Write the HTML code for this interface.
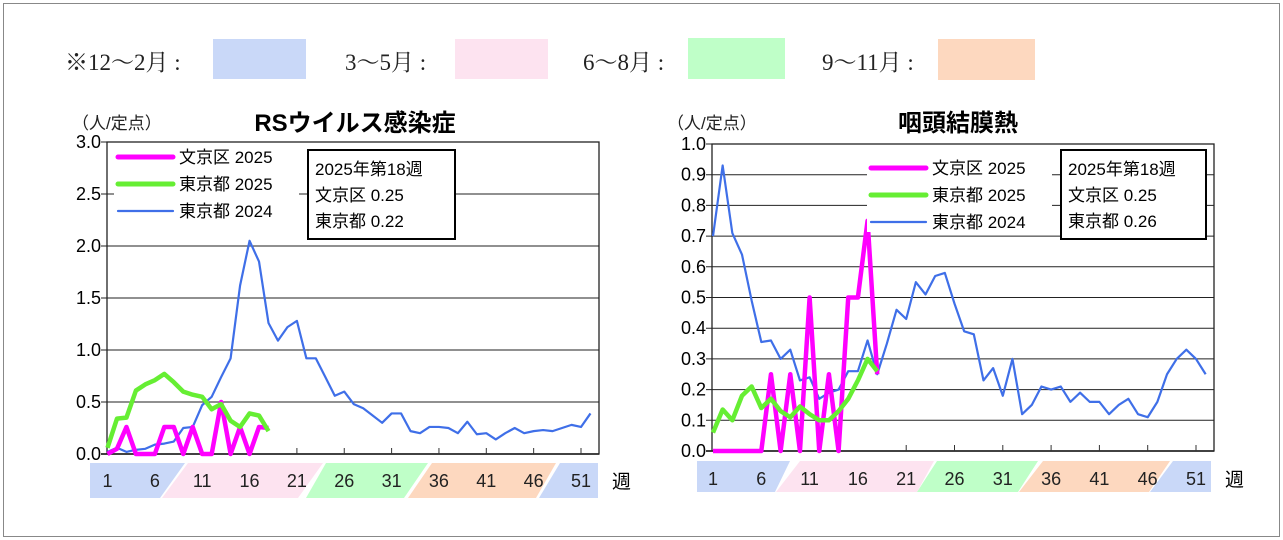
<!DOCTYPE html>
<html><head><meta charset="utf-8">
<style>
body{margin:0;background:#fff;}
svg{display:block;font-family:"Liberation Sans","Noto Sans CJK JP",sans-serif;}
.serif{font-family:"Liberation Serif","Noto Serif CJK SC",serif;}
</style></head>
<body>
<svg id="root" width="1283" height="540" viewBox="0 0 1283 540" xmlns="http://www.w3.org/2000/svg">
<rect x="3.5" y="3.5" width="1276" height="533" fill="#fff" stroke="#888" stroke-width="1"/>
<g class="serif" font-size="23" fill="#222">
 <text x="65" y="70">※12～2月 :</text>
 <rect x="213" y="39" width="93" height="40" fill="#c9d8f8"/>
 <text x="345" y="70">3～5月 :</text>
 <rect x="455" y="39" width="93" height="40" fill="#fde3f0"/>
 <text x="583" y="70">6～8月 :</text>
 <rect x="688" y="38" width="97" height="41" fill="#bfffc8"/>
 <text x="822" y="70">9～11月 :</text>
 <rect x="938" y="39" width="97" height="41" fill="#fdd8bf"/>
</g>
<g id="c1"></g>
<g id="c2"></g>
</svg>
<script>
// RSウイルス感染症
const rsvBunkyo2025=[0,0.05,0.26,0,0,0,0.26,0.26,0,0.26,0,0,0.5,0,0.26,0,0.26,0.25];
const rsvTokyo2025=[0.06,0.34,0.35,0.61,0.67,0.71,0.77,0.69,0.6,0.57,0.55,0.43,0.48,0.32,0.26,0.39,0.37,0.22];
const rsvTokyo2024=[0.02,0.06,0.02,0.04,0.05,0.09,0.1,0.12,0.25,0.26,0.47,0.55,0.74,0.92,1.62,2.05,1.85,1.26,1.09,1.22,1.28,0.92,0.92,0.74,0.56,0.6,0.48,0.44,0.37,0.3,0.39,0.39,0.22,0.2,0.26,0.26,0.25,0.2,0.31,0.19,0.2,0.14,0.2,0.25,0.2,0.22,0.23,0.22,0.25,0.28,0.26,0.39];
const rsvTicks=["0.0","0.5","1.0","1.5","2.0","2.5","3.0"];
// 咽頭結膜熱
const pcfBunkyo2025=[0,0,0,0,0,0,0.25,0,0.25,0,0.5,0,0.25,0,0.5,0.5,0.75,0.25];
const pcfTokyo2025=[0.06,0.135,0.1,0.18,0.21,0.14,0.17,0.13,0.11,0.145,0.12,0.1,0.1,0.13,0.17,0.23,0.3,0.26];
const pcfTokyo2024=[0.7,0.93,0.71,0.64,0.49,0.355,0.36,0.3,0.33,0.23,0.24,0.17,0.19,0.2,0.26,0.26,0.36,0.25,0.35,0.46,0.43,0.55,0.51,0.57,0.58,0.48,0.39,0.38,0.23,0.27,0.18,0.3,0.12,0.15,0.21,0.2,0.21,0.16,0.19,0.16,0.16,0.12,0.15,0.17,0.12,0.11,0.16,0.25,0.3,0.33,0.3,0.25];
const pcfTicks=["0.0","0.1","0.2","0.3","0.4","0.5","0.6","0.7","0.8","0.9","1.0"];
const weekLabels=["1","6","11","16","21","26","31","36","41","46","51"];

const NS="http://www.w3.org/2000/svg";
function mk(parent,tag,attrs){const e=document.createElementNS(NS,tag);for(const k in attrs)e.setAttribute(k,attrs[k]);parent.appendChild(e);return e;}

function chart(g,cfg){
  const {x0,x1,y0,y1,max,ticks,b25,t25,t24,title,titleX,unitX,legX,legY,boxX,boxW,tokyoVal,bands,bandY0,bandY1,wk1,wkStep}=cfg;
  const ys=v=>y1-(v/max)*(y1-y0);
  const xs=w=>wk1+(w-1)*wkStep;
  const colors=["#c9d8f8","#fde3f0","#bfffc8","#fdd8bf","#c9d8f8"];
  const bn=["band-winter","band-spring","band-summer","band-autumn","band-winter-late"];
  bands.forEach((b,i)=>{
    const p=mk(g,"polygon",{points:`${b[0]},${bandY0} ${b[1]},${bandY0} ${b[3]},${bandY1} ${b[2]},${bandY1}`,fill:colors[i]});
    
    
  });
  const t=mk(g,"text",{x:titleX,y:131,"font-size":24,"font-weight":"bold","text-anchor":"middle",fill:"#000"});t.textContent=title;
  
  
  const u=mk(g,"text",{x:unitX,y:129,"font-size":17,fill:"#222"});u.textContent="（人/定点）";
  
  
  ticks.forEach((lab,i)=>{
    const v=i*max/(ticks.length-1);const y=ys(v);
    const l=mk(g,"line",{x1:x0-6,x2:x1,y1:y,y2:y,stroke:i===0?"#000":"#222","stroke-width":i===0?1.5:1});
    
    
    const tx=mk(g,"text",{x:x0-6,y:y+6,"font-size":18,"text-anchor":"end",fill:"#000"});tx.textContent=lab;
    
    
  });
  const fr=mk(g,"rect",{x:x0,y:y0,width:x1-x0,height:y1-y0,fill:"none",stroke:"#222","stroke-width":1.3});
  
  
  weekLabels.forEach((lab,i)=>{
    const w=+lab;const x=xs(w);
    if(i>=4){const tk=mk(g,"line",{x1:x,x2:x,y1:y1-6,y2:y1,stroke:"#333"});
      
      }
    const tx=mk(g,"text",{x:x,y:bandY0+24,"font-size":18,"text-anchor":"middle",fill:"#222"});tx.textContent=lab;
    
    
  });
  const wl=mk(g,"text",{x:bands[4][1]+14,y:bandY0+25,"font-size":19,fill:"#000"});wl.textContent="週";
  
  
  const line=(arr,color,w,name)=>{
    const p=mk(g,"polyline",{points:arr.map((v,i)=>`${xs(i+1)},${ys(v)}`).join(" "),fill:"none",stroke:color,"stroke-width":w,"stroke-linejoin":"round"});
    
    
  };
  line(t24,"#3f6fe8",2.2,"series-tokyo-2024");
  line(b25,"#ff00ff",4.5,"series-bunkyo-2025");
  line(t25,"#66ee33",4.5,"series-tokyo-2025");
  const lg=[["文京区 2025","#ff00ff",5],["東京都 2025","#66ee33",5],["東京都 2024","#3f6fe8",2.2]];
  const lb=mk(g,"rect",{x:legX-4,y:legY-12,width:185,height:76,fill:"#fff"});
  
  
  lg.forEach((e,i)=>{
    const y=legY+i*27;
    const l=mk(g,"line",{x1:legX,x2:legX+55,y1:y,y2:y,stroke:e[1],"stroke-width":e[2],"stroke-linecap":"round"});
    
    
    const tx=mk(g,"text",{x:legX+61,y:y+6,"font-size":17,fill:"#000"});tx.textContent=e[0];
    
    
  });
  const bx=mk(g,"rect",{x:boxX,y:150,width:boxW,height:89,fill:"#fff",stroke:"#000","stroke-width":2});
  
  
  ["2025年第18週","文京区  0.25","東京都  "+tokyoVal].forEach((s,i)=>{
    const tx=mk(g,"text",{x:boxX+7,y:175+i*26,"font-size":17,fill:"#000","xml:space":"preserve"});tx.textContent=s;
    
    
  });
}
chart(document.getElementById("c1"),{x0:107,x1:599,y0:142,y1:454,max:3,ticks:rsvTicks,b25:rsvBunkyo2025,t25:rsvTokyo2025,t24:rsvTokyo2024,
  title:"RSウイルス感染症",titleX:355,unitX:72,legX:118,legY:157,boxX:308,boxW:147,tokyoVal:"0.22",
  bands:[[90,185,90,160],[188,323,162,298],[326,428,306,404],[432,556,408,536],[560,598,539,598]],bandY0:463,bandY1:498,wk1:107.5,wkStep:9.47});
chart(document.getElementById("c2"),{x0:712,x1:1214,y0:144,y1:451,max:1,ticks:pcfTicks,b25:pcfBunkyo2025,t25:pcfTokyo2025,t24:pcfTokyo2024,
  title:"咽頭結膜熱",titleX:958,unitX:667,legX:871,legY:168,boxX:1061,boxW:145,tokyoVal:"0.26",
  bands:[[697,790,697,775],[800,934,776,917],[937,1038,917,1018],[1043,1170,1019,1149],[1173,1211,1150,1211]],bandY0:461,bandY1:492,wk1:713,wkStep:9.66});
</script>
</body></html>
